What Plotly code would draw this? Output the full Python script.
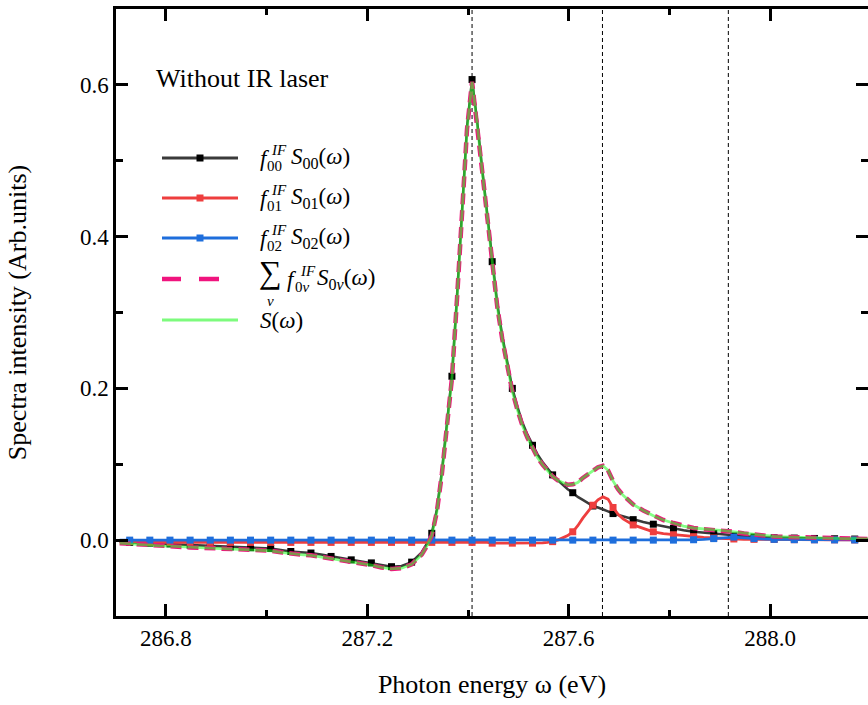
import plotly.graph_objects as go

# ---- sampling grid (photon energy, eV) ----
seg_a = [round(286.708 + 0.02 * i, 3) for i in range(30)]   # 286.708 .. 287.288
seg_b = [round(287.308 + 0.01 * i, 3) for i in range(40)]   # 287.308 .. 287.698
seg_c = [round(287.708 + 0.02 * i, 3) for i in range(26)]   # 287.708 .. 288.208
energy = seg_a + seg_b + seg_c

# f00^IF S00(w)
f00_S00 = [
    -0.002, -0.003, -0.0035, -0.004, -0.0045, -0.005, -0.006, -0.0066, -0.007, -0.0075,
    -0.008, -0.009, -0.0095, -0.010, -0.0105, -0.011, -0.013, -0.015, -0.016, -0.017,
    -0.019, -0.0215, -0.024, -0.026, -0.028, -0.030, -0.033, -0.035, -0.034, -0.029,
    -0.016, -0.005, 0.009, 0.040, 0.090, 0.150, 0.216, 0.320, 0.440, 0.545,
    0.607, 0.553, 0.490, 0.430, 0.367, 0.312, 0.269, 0.232, 0.200, 0.176,
    0.155, 0.139, 0.125, 0.113, 0.103, 0.094, 0.086, 0.079, 0.073, 0.067,
    0.0625, 0.057, 0.053, 0.049, 0.045, 0.043, 0.041, 0.038, 0.035, 0.033,
    0.031, 0.027, 0.024, 0.021, 0.018, 0.0155, 0.013, 0.011, 0.0098, 0.0088,
    0.007, 0.0055, 0.0048, 0.004, 0.0035, 0.003, 0.003, 0.0027, 0.0025, 0.0022,
    0.002, 0.0018, 0.0016, 0.0014, 0.0012, 0.001,
]

# f01^IF S01(w)
f01_S01 = [
    -0.002, -0.002, -0.002, -0.003, -0.003, -0.003, -0.003, -0.003, -0.003, -0.003,
    -0.003, -0.003, -0.003, -0.003, -0.003, -0.003, -0.003, -0.003, -0.003, -0.003,
    -0.003, -0.003, -0.003, -0.003, -0.003, -0.003, -0.003, -0.003, -0.003, -0.003,
    -0.003, -0.003, -0.003, -0.003, -0.003, -0.003, -0.003, -0.003, -0.003, -0.003,
    -0.003, -0.003, -0.003, -0.003, -0.004, -0.004, -0.004, -0.004, -0.004, -0.004,
    -0.004, -0.004, -0.004, -0.004, -0.0035, -0.003, -0.002, 0.000, 0.003, 0.006,
    0.011, 0.019, 0.029, 0.038, 0.046, 0.053, 0.057, 0.054, 0.043, 0.034,
    0.028, 0.020, 0.015, 0.011, 0.0085, 0.007, 0.0055, 0.0045, 0.0035, 0.0028,
    0.002, 0.0015, 0.001, 0.001, 0.0008, 0.0008, 0.0006, 0.0006, 0.0005, 0.0005,
    0.0004, 0.0004, 0.0003, 0.0003, 0.0003, 0.0002,
]

# f02^IF S02(w)
f02_S02 = [
    0.0, 0.0, 0.0, 0.0, 0.0, 0.0, 0.0, 0.0, 0.0, 0.0,
    0.0, 0.0, 0.0, 0.0, 0.0, 0.0, 0.0, 0.0, 0.0, 0.0,
    0.0, 0.0, 0.0, 0.0, 0.0, 0.0, 0.0, 0.0, 0.0, 0.0,
    0.0, 0.0, 0.0, 0.0, 0.0, 0.0, 0.0, 0.0, 0.0, 0.0,
    0.0, 0.0, 0.0, 0.0, 0.0, 0.0, 0.0, 0.0, 0.0, 0.0,
    0.0, 0.0, 0.0, 0.0, 0.0, 0.0, 0.0, 0.0, 0.0, 0.0,
    0.0, 0.0, 0.0, 0.0, 0.0, 0.0, 0.0, 0.0, 0.0, 0.0,
    0.0, 0.0, 0.0, 0.0, 0.0, 0.0, 0.0, 0.0005, 0.001, 0.002,
    0.0035, 0.004, 0.003, 0.002, 0.0015, 0.001, 0.0008, 0.0006, 0.0005, 0.0004,
    0.0003, 0.0003, 0.0002, 0.0002, 0.0002, 0.0001,
]

# sum over v of f0v^IF S0v(w)
sum_f0v_S0v = [
    -0.004, -0.005, -0.0055, -0.007, -0.0075, -0.008, -0.009, -0.0096, -0.010, -0.0105,
    -0.011, -0.012, -0.0125, -0.013, -0.0135, -0.014, -0.016, -0.018, -0.019, -0.020,
    -0.022, -0.0245, -0.027, -0.029, -0.031, -0.033, -0.036, -0.038, -0.037, -0.032,
    -0.019, -0.008, 0.006, 0.037, 0.087, 0.147, 0.213, 0.317, 0.437, 0.542,
    0.604, 0.550, 0.487, 0.427, 0.363, 0.308, 0.265, 0.228, 0.196, 0.172,
    0.151, 0.135, 0.121, 0.109, 0.0995, 0.091, 0.084, 0.079, 0.076, 0.073,
    0.0735, 0.076, 0.082, 0.087, 0.091, 0.096, 0.098, 0.092, 0.078, 0.067,
    0.059, 0.047, 0.039, 0.032, 0.0265, 0.0225, 0.0185, 0.016, 0.0143, 0.0136,
    0.0125, 0.011, 0.0088, 0.007, 0.006, 0.0048, 0.0044, 0.0039, 0.0035, 0.0031,
    0.0027, 0.0025, 0.0021, 0.0019, 0.0017, 0.0013,
]

# total spectrum S(w)
S_total = [
    -0.004, -0.005, -0.0055, -0.007, -0.0075, -0.008, -0.009, -0.0096, -0.010, -0.0105,
    -0.011, -0.012, -0.0125, -0.013, -0.0135, -0.014, -0.016, -0.018, -0.019, -0.020,
    -0.022, -0.0245, -0.027, -0.029, -0.031, -0.033, -0.036, -0.038, -0.037, -0.032,
    -0.019, -0.008, 0.006, 0.037, 0.087, 0.147, 0.213, 0.317, 0.437, 0.542,
    0.604, 0.550, 0.487, 0.427, 0.363, 0.308, 0.265, 0.228, 0.196, 0.172,
    0.151, 0.135, 0.121, 0.109, 0.0995, 0.091, 0.084, 0.079, 0.076, 0.073,
    0.0735, 0.076, 0.082, 0.087, 0.091, 0.096, 0.098, 0.092, 0.078, 0.067,
    0.059, 0.047, 0.039, 0.032, 0.0265, 0.0225, 0.0185, 0.016, 0.0143, 0.0136,
    0.0125, 0.011, 0.0088, 0.007, 0.006, 0.0048, 0.0044, 0.0039, 0.0035, 0.0031,
    0.0027, 0.0025, 0.0021, 0.0019, 0.0017, 0.0013,
]

# vibrational resonance positions (eV)
resonances = [287.408, 287.667, 287.917]

x_ticks = [286.8, 287.2, 287.6, 288.0]
y_ticks = [0.0, 0.2, 0.4, 0.6]

# symbols are drawn every 0.04 eV
marker_start, marker_step = 286.728, 0.04
mark_idx = [i for i, e in enumerate(energy)
            if abs((e - marker_start) / marker_step - round((e - marker_start) / marker_step)) < 1e-6]

C_BLACK = "#3a3a3a"
C_RED = "#EE3E3E"
C_BLUE = "#1E6EDC"
C_PINK = "#F0147E"
C_GREEN = "rgba(35,255,35,0.55)"
C_GREEN_KEY = "#7DFB7D"
FONT = "Liberation Serif"

W, H = 868, 705
L, R, T, B = 116, 868, 9, 616
X_RANGE = [286.7008, 288.1944]
Y_RANGE = [-0.1, 0.7]

fig = go.Figure()


def add_series(y, color, width, with_markers, marker_color=None):
    fig.add_trace(go.Scatter(x=energy, y=y, mode="lines",
                             line=dict(color=color, width=width),
                             hoverinfo="skip", showlegend=False))
    if with_markers:
        fig.add_trace(go.Scatter(x=[energy[i] for i in mark_idx],
                                 y=[y[i] for i in mark_idx], mode="markers",
                                 marker=dict(symbol="square", size=7,
                                             color=marker_color or color,
                                             line=dict(width=0)),
                                 hoverinfo="skip", showlegend=False))


add_series(f00_S00, C_BLACK, 2.5, True, "black")
add_series(f01_S01, C_RED, 2.8, True)
add_series(f02_S02, C_BLUE, 2.8, True)
fig.add_trace(go.Scatter(x=energy, y=sum_f0v_S0v, mode="lines",
                         line=dict(color=C_PINK, width=4.5, dash="11px,6px"),
                         hoverinfo="skip", showlegend=False))
fig.add_trace(go.Scatter(x=energy, y=S_total, mode="lines",
                         line=dict(color=C_GREEN, width=2.8),
                         hoverinfo="skip", showlegend=False))
# carrier for the right-hand tick axis
fig.add_trace(go.Scatter(x=[None], y=[None], yaxis="y2", showlegend=False, hoverinfo="skip"))

# dashed markers of the vibrational resonances
for e in resonances:
    fig.add_shape(type="line", xref="x", yref="paper", x0=e, x1=e, y0=0, y1=1,
                  line=dict(color="black", width=1, dash="4px,3px"), layer="below")


def px(xp):
    return (xp - L) / (R - L)


def py(yp):
    return (B - yp) / (B - T)


# legend block
rows = [158, 198, 238, 279, 320]
keys = [(C_BLACK, "black"), (C_RED, C_RED), (C_BLUE, C_BLUE)]
for (lc, mc), yr in zip(keys, rows[:3]):
    fig.add_shape(type="line", xref="paper", yref="paper", x0=px(162), x1=px(238),
                  y0=py(yr), y1=py(yr), line=dict(color=lc, width=2.8))
    fig.add_shape(type="rect", xref="paper", yref="paper", x0=px(196.5), x1=px(203.5),
                  y0=py(yr + 3.5), y1=py(yr - 3.5), line=dict(width=0), fillcolor=mc)
for a, b in [(162, 181), (199, 219)]:
    fig.add_shape(type="line", xref="paper", yref="paper", x0=px(a), x1=px(b),
                  y0=py(rows[3]), y1=py(rows[3]), line=dict(color=C_PINK, width=4.5))
fig.add_shape(type="line", xref="paper", yref="paper", x0=px(162), x1=px(238),
              y0=py(rows[4]), y1=py(rows[4]), line=dict(color=C_GREEN_KEY, width=2.8))


def label(xp, yp, text, size=23, anchor="left", yanchor="middle"):
    fig.add_annotation(x=px(xp), y=py(yp), xref="paper", yref="paper", text=text,
                       showarrow=False, xanchor=anchor, yanchor=yanchor, borderpad=0,
                       font=dict(family=FONT, size=size, color="black"))


for yr, sub in zip(rows[:3], ["00", "01", "02"]):
    label(259, yr, "<i>f</i>")
    label(270, yr - 8, "<i>IF</i>", size=15)
    label(266, yr + 8, sub, size=15)
    label(290, yr, "<i>S</i><sub>%s</sub>(<i>ω</i>)" % sub)

yr = rows[3]
label(258, yr + 12, "∑", size=32, yanchor="bottom")
label(266, yr + 13, "<i>v</i>", size=15, yanchor="top")
label(286, yr, "<i>f</i>")
label(299, yr - 8, "<i>IF</i>", size=15)
label(294, yr + 8, "0<i>v</i>", size=15)
label(316, yr, "<i>S</i><sub>0<i>v</i></sub>(<i>ω</i>)")
label(259, rows[4], "<i>S</i>(<i>ω</i>)")

label(155, 78, "Without IR laser", size=26)

tick_common = dict(ticks="inside", ticklen=12, tickwidth=2.5, tickcolor="black",
                   showgrid=False, zeroline=False,
                   tickfont=dict(family=FONT, size=23, color="black"))

fig.update_layout(
    width=W, height=H,
    margin=dict(l=L, r=W - R, t=T, b=H - B, pad=0),
    paper_bgcolor="white", plot_bgcolor="white",
    font=dict(family=FONT, color="black"),
    xaxis=dict(range=X_RANGE, tickvals=x_ticks, ticktext=["%.1f" % v for v in x_ticks],
               showline=True, linecolor="black", linewidth=2.5, mirror="ticks",
               minor=dict(tick0=286.8, dtick=0.2, ticks="inside", ticklen=6,
                          tickwidth=2.5, tickcolor="black"),
               title=dict(text="Photon energy ω (eV)", standoff=25,
                          font=dict(family=FONT, size=26, color="black")),
               **tick_common),
    yaxis=dict(range=Y_RANGE, tickvals=y_ticks, ticktext=["%.1f" % v for v in y_ticks],
               showline=True, linecolor="black", linewidth=2.5,
               minor=dict(tick0=0, dtick=0.1, ticks="inside", ticklen=7,
                          tickwidth=2.5, tickcolor="black"),
               title=dict(text="Spectra intensity (Arb.units)", standoff=46,
                          font=dict(family=FONT, size=26, color="black")),
               **tick_common),
    yaxis2=dict(range=Y_RANGE, overlaying="y", side="right", anchor="x",
                tickvals=y_ticks, showticklabels=False, showline=False,
                minor=dict(tick0=0, dtick=0.1, ticks="inside", ticklen=7,
                           tickwidth=2.5, tickcolor="black"),
                **{k: v for k, v in tick_common.items() if k != "tickfont"}),
)

fig.write_html("out.html")
